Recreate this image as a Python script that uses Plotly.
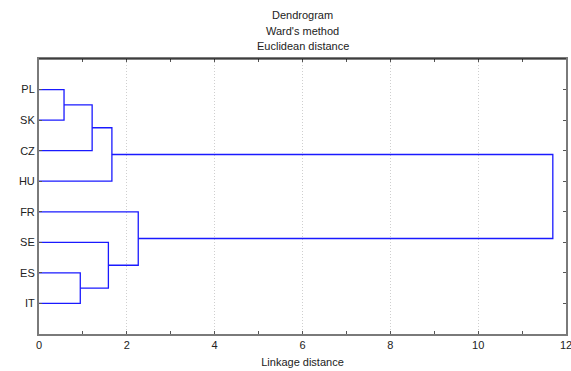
import plotly.graph_objects as go

# Leaves, top to bottom
leaves = ["PL", "SK", "CZ", "HU", "FR", "SE", "ES", "IT"]
# Merges: (left member, right member, linkage distance)
merges = [
    ("PL", "SK", 0.57),
    ("m0", "CZ", 1.21),
    ("m1", "HU", 1.66),
    ("ES", "IT", 0.94),
    ("SE", "m3", 1.58),
    ("FR", "m4", 2.26),
    ("m2", "m5", 11.70),
]
x_ticks = [0, 2, 4, 6, 8, 10, 12]

n = len(leaves)
pos = {name: n - i for i, name in enumerate(leaves)}
height = {name: 0.0 for name in leaves}

xs, ys = [], []
for k, (a, b, h) in enumerate(merges):
    ya, yb = pos[a], pos[b]
    xs += [height[a], h, h, height[b], None]
    ys += [ya, ya, yb, yb, None]
    name = f"m{k}"
    pos[name] = (ya + yb) / 2
    height[name] = h

fig = go.Figure()
fig.add_trace(go.Scatter(x=xs, y=ys, mode="lines",
                         line=dict(color="#1a1aff", width=1.3),
                         hoverinfo="skip", showlegend=False))

font = dict(family="Liberation Sans, Arial, sans-serif", size=11, color="#222222")

fig.update_layout(
    width=571, height=371,
    margin=dict(l=39, r=5, t=59, b=37),
    plot_bgcolor="white", paper_bgcolor="white",
    font=font,
    showlegend=False,
)
fig.update_xaxes(
    range=[0, 12], tickvals=x_ticks, ticktext=[str(v) for v in x_ticks],
    automargin=False, ticklabeloverflow="allow",
    showline=True, linecolor="#7a7a7a", linewidth=1.5, mirror="ticks",
    ticks="inside", ticklen=3, tickcolor="#555555",
    minor=dict(dtick=1, ticks="inside", ticklen=3, tickcolor="#555555", showgrid=False),
    showgrid=True, gridcolor="#cfcfcf", griddash="1px,2px", gridwidth=1,
    zeroline=False,
    title=dict(text="Linkage distance", font=font, standoff=8),
)
fig.update_yaxes(
    range=[0, n + 1],
    tickvals=[n - i for i in range(n)], ticktext=leaves,
    automargin=False,
    showline=True, linecolor="#7a7a7a", linewidth=2, mirror="ticks",
    ticks="inside", ticklen=3, tickcolor="#555555",
    showgrid=False, zeroline=False,
)
# black top border line
fig.add_shape(type="line", xref="paper", yref="paper", x0=0, x1=1, y0=1, y1=1,
              line=dict(color="black", width=1.2))

titles = ["Dendrogram", "Ward's method", "Euclidean distance"]
for i, t in enumerate(titles):
    py = 15 + 15.5 * i
    fig.add_annotation(text=t, xref="paper", yref="paper", x=0.5,
                       y=(334 - py) / 275, xanchor="center", yanchor="middle",
                       showarrow=False, font=font)

fig.write_html("out.html")
